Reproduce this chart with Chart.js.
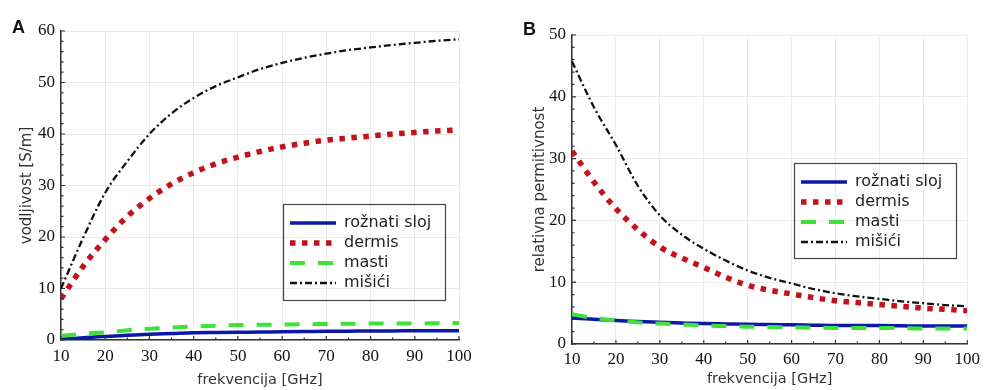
<!DOCTYPE html>
<html>
<head>
<meta charset="utf-8">
<script src="https://cdn.jsdelivr.net/npm/chart.js@4/dist/chart.umd.min.js"></script>
<style>
  body { margin: 0; background: #fff; }
  #wrap { position: relative; width: 985px; height: 390px; }
  .panel { position: absolute; top: 0; height: 390px; }
  .tag { position: absolute; font: bold 18px "Liberation Sans", Arial, sans-serif; line-height: 1; color: #111; }
</style>
</head>
<body>
<div id="wrap">
  <div class="panel" style="left:0;width:490px"><canvas id="canvas-a"></canvas></div>
  <div class="panel" style="left:490px;width:495px"><canvas id="canvas-b"></canvas></div>
  <div class="tag" style="left:12px;top:18px">A</div>
  <div class="tag" style="left:523px;top:20px">B</div>
</div>
<script>
// frekvencija [GHz]
var frekvencija = [10, 15, 20, 25, 30, 35, 40, 45, 50, 55, 60, 65, 70, 75, 80, 85, 90, 95, 100];
var xTicks = [10, 20, 30, 40, 50, 60, 70, 80, 90, 100];
var oznake = ["rožnati sloj", "dermis", "masti", "mišići"];

// A - vodljivost [S/m]
var roznatiA = [0.1, 0.45, 0.7, 0.9, 1.1, 1.25, 1.4, 1.45, 1.5, 1.55, 1.6, 1.65, 1.7, 1.7, 1.75, 1.75, 1.8, 1.8, 1.8];
var dermisA = [8, 14.3, 19.5, 24, 27.5, 30.3, 32.5, 34.2, 35.5, 36.6, 37.5, 38.2, 38.8, 39.2, 39.6, 40, 40.3, 40.6, 40.8];
var mastiA = [0.8, 1.2, 1.5, 1.9, 2.2, 2.4, 2.6, 2.75, 2.9, 2.95, 3.0, 3.05, 3.1, 3.15, 3.2, 3.2, 3.2, 3.25, 3.3];
var misiciA = [10, 19.8, 28.6, 34.7, 40, 44, 47, 49.3, 51, 52.6, 53.8, 54.8, 55.6, 56.3, 56.8, 57.3, 57.7, 58.1, 58.4];
var yTicksA = [0, 10, 20, 30, 40, 50, 60];

// B - relativna permitivnost
var roznatiB = [4.2, 4.0, 3.8, 3.65, 3.5, 3.4, 3.3, 3.25, 3.2, 3.15, 3.1, 3.05, 3.0, 3.0, 3.0, 2.95, 2.9, 2.9, 2.9];
var dermisB = [31.2, 26.2, 21.9, 18.5, 15.7, 13.9, 12.4, 10.8, 9.5, 8.7, 8.1, 7.5, 7.0, 6.7, 6.4, 6.1, 5.8, 5.6, 5.4];
var mastiB = [4.8, 4.2, 3.8, 3.5, 3.3, 3.15, 3.0, 2.9, 2.8, 2.75, 2.7, 2.65, 2.6, 2.6, 2.6, 2.55, 2.5, 2.5, 2.5];
var misiciB = [45.7, 38.3, 32.2, 25.6, 20.8, 17.7, 15.4, 13.5, 11.9, 10.7, 9.8, 8.9, 8.2, 7.7, 7.3, 6.9, 6.6, 6.3, 6.1];
var yTicksB = [0, 10, 20, 30, 40, 50];

function tocke(vrijednosti) {
    return vrijednosti.map((v, i) => ({ x: frekvencija[i], y: v }));
}

function napraviSkupove(roznati, dermis, masti, misici) {
    return [
        { label: oznake[0], data: tocke(roznati), borderColor: "#0c18a8", borderWidth: 3.5, order: 1 },
        { label: oznake[1], data: tocke(dermis), borderColor: "#c3121c", borderWidth: 5.5, borderDash: [5.5, 6.5], order: 2 },
        { label: oznake[2], data: tocke(masti), borderColor: "#3ee03a", borderWidth: 4, borderDash: [15, 13], order: 0 },
        { label: oznake[3], data: tocke(misici), borderColor: "#111", borderWidth: 2.3, borderDash: [7, 3, 2, 3], order: 3 },
    ];
}

// legenda na zadanom mjestu unutar grafa, s okvirom
var legendaOkvir = {
    id: "legendaOkvir",
    afterLayout(chart, args, opts) {
        var lg = chart.legend;
        lg.left = opts.x + 3;
        lg.top = opts.y + 7;
        lg.right = lg.left + lg.width;
        lg.bottom = lg.top + 150;
    },
    afterDraw(chart, args, opts) {
        var ctx = chart.ctx;
        ctx.save();
        ctx.strokeStyle = "#444";
        ctx.lineWidth = 1.2;
        ctx.strokeRect(opts.x + 0.5, opts.y + 0.5, opts.w, opts.h);
        ctx.restore();
    },
};

// male crtice prema unutra na osima
var crticeOsi = {
    id: "crticeOsi",
    afterDatasetsDraw(chart) {
        var ctx = chart.ctx, a = chart.chartArea, x = chart.scales.x, y = chart.scales.y;
        ctx.save();
        ctx.strokeStyle = "#333";
        ctx.lineWidth = 1.2;
        ctx.beginPath();
        for (var v = x.min; v <= x.max; v += 5) {
            var px = x.getPixelForValue(v);
            var d = v % 10 === 0 ? 4 : 2.5;
            ctx.moveTo(px, a.bottom);
            ctx.lineTo(px, a.bottom - d);
        }
        for (var w = y.min; w <= y.max; w += 2) {
            var py = y.getPixelForValue(w);
            var e = w % 10 === 0 ? 4 : 2.5;
            ctx.moveTo(a.left, py);
            ctx.lineTo(a.left + e, py);
        }
        ctx.stroke();
        ctx.restore();
    },
};

function nacrtajGraf(id, skupovi, yTicks, yNaslov, raspored) {
    var ctx = document.getElementById(id).getContext("2d");
    return new Chart(ctx, {
        type: "line",
        data: { datasets: skupovi },
        plugins: [legendaOkvir, crticeOsi],
        options: {
            responsive: true,
            maintainAspectRatio: false,
            animation: false,
            layout: { padding: { top: raspored.top, right: raspored.right, left: 0, bottom: 0 } },
            elements: {
                point: { radius: 0 },
                line: { cubicInterpolationMode: "monotone", fill: false },
            },
            scales: {
                x: {
                    type: "linear",
                    min: xTicks[0],
                    max: xTicks[xTicks.length - 1],
                    afterBuildTicks: (s) => { s.ticks = xTicks.map((v) => ({ value: v })); },
                    afterFit: (s) => { s.height = raspored.xHeight; },
                    grid: { color: "#ebebeb", drawTicks: false },
                    border: { color: "#333", width: 1.5 },
                    ticks: { padding: raspored.xPad, color: "#111", font: { family: "Liberation Serif", size: 17 } },
                    title: {
                        display: true,
                        text: "frekvencija [GHz]",
                        color: "#333",
                        font: { family: "DejaVu Sans", size: 14.5 },
                        padding: { top: 0, bottom: raspored.xTitlePad },
                    },
                },
                y: {
                    min: yTicks[0],
                    max: yTicks[yTicks.length - 1],
                    afterBuildTicks: (s) => { s.ticks = yTicks.map((v) => ({ value: v })); },
                    afterFit: (s) => { s.width = raspored.yWidth; },
                    grid: { color: "#ebebeb", drawTicks: false },
                    border: { color: "#333", width: 1.5 },
                    ticks: { padding: 6, color: "#111", font: { family: "Liberation Serif", size: 17 } },
                    title: {
                        display: true,
                        text: yNaslov,
                        color: "#333",
                        font: { family: "DejaVu Sans", size: 15 },
                        padding: { top: raspored.yTitlePad, bottom: 0 },
                    },
                },
            },
            plugins: {
                tooltip: { enabled: false },
                legendaOkvir: raspored.legenda,
                legend: {
                    position: "chartArea",
                    align: "start",
                    labels: {
                        usePointStyle: true,
                        pointStyleWidth: 46,
                        padding: 4,
                        color: "#222",
                        font: { family: "DejaVu Sans", size: 16 },
                        generateLabels: (chart) => chart.data.datasets.map((ds, i) => ({
                            text: ds.label,
                            datasetIndex: i,
                            hidden: false,
                            fillStyle: ds.borderColor,
                            strokeStyle: ds.borderColor,
                            lineWidth: ds.borderWidth,
                            lineDash: ds.borderDash || [],
                            lineCap: "butt",
                            pointStyle: "line",
                            fontColor: "#222",
                        })),
                    },
                },
            },
        },
    });
}

nacrtajGraf("canvas-a", napraviSkupove(roznatiA, dermisA, mastiA, misiciA), yTicksA, "vodljivost [S/m]", {
    top: 31, right: 31, xHeight: 50, yWidth: 61, xPad: 6, xTitlePad: 1, yTitlePad: 18,
    legenda: { x: 283, y: 204, w: 162, h: 96 },
});
nacrtajGraf("canvas-b", napraviSkupove(roznatiB, dermisB, mastiB, misiciB), yTicksB, "relativna permitivnost", {
    top: 35, right: 15, xHeight: 46, yWidth: 82, xPad: 5, xTitlePad: 2, yTitlePad: 41,
    legenda: { x: 304, y: 163, w: 162, h: 95 },
});
</script>
</body>
</html>
